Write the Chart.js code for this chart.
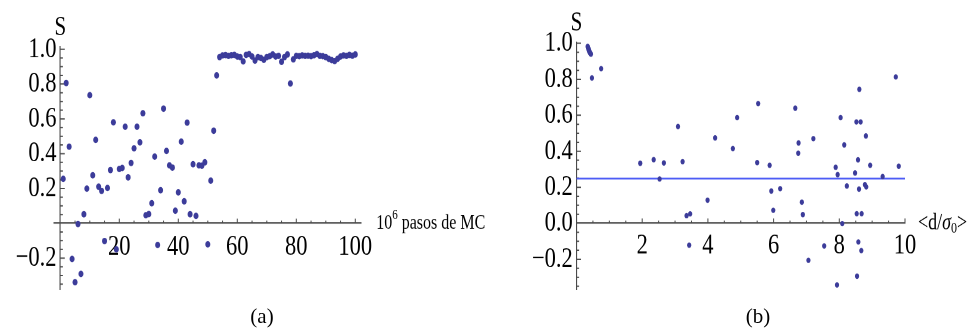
<!DOCTYPE html>
<html lang="es">
<head>
<meta charset="utf-8">
<script src="https://cdn.jsdelivr.net/npm/chart.js@4.4.1/dist/chart.umd.min.js"></script>
<style>
  html, body { margin: 0; padding: 0; background: #fff; }
  body { width: 974px; height: 334px; position: relative; overflow: hidden; }
  .panel { position: absolute; top: 0; height: 257px;
           transform: scaleY(1.2996); transform-origin: 0 0; }
  #panelA { left: 0; width: 500px; }
  #panelB { left: 487px; width: 487px; }
  .cap { position: absolute; top: 304px; width: 60px; text-align: center;
         font-family: 'Liberation Serif', serif; font-size: 21px; line-height: 24px; color: #000; }
</style>
</head>
<body>
<div class="panel" id="panelA"><canvas id="chartA" width="500" height="257"></canvas></div>
<div class="panel" id="panelB"><canvas id="chartB" width="487" height="257"></canvas></div>
<div class="cap" style="left:232px">(a)</div>
<div class="cap" style="left:728px">(b)</div>
<script>
// ---- (a) parámetro de orden S frente a pasos de Monte Carlo (x 10^6) ----
const pasosMC = [
  1, 2, 3, 4, 5, 6, 7, 8, 9, 10, 11, 12, 13, 14, 15, 16, 17, 18, 19, 20,
  21, 22, 23, 24, 25, 26, 27, 28, 29, 30, 31, 32, 33, 34, 35, 36, 37, 38, 39, 40,
  41, 42, 43, 44, 45, 46, 47, 48, 49, 50, 51, 52, 53, 54, 55, 56, 57, 58, 59, 60,
  61, 62, 63, 64, 65, 66, 67, 68, 69, 70, 71, 72, 73, 74, 75, 76, 77, 78, 79, 80,
  81, 82, 83, 84, 85, 86, 87, 88, 89, 90, 91, 92, 93, 94, 95, 96, 97, 98, 99, 100
];
const ordenS_A = [
  0.255, 0.806, 0.440, -0.205, -0.339, -0.004, -0.291, 0.052, 0.199, 0.736,
  0.276, 0.479, 0.210, 0.186, -0.102, 0.203, 0.306, 0.580, -0.150, 0.312,
  0.318, 0.555, 0.264, 0.347, 0.431, 0.555, 0.465, 0.632, 0.046, 0.053,
  0.115, 0.383, -0.125, 0.190, 0.659, 0.416, 0.333, 0.320, 0.072, 0.178,
  0.469, 0.126, 0.578, 0.052, 0.339, 0.042, 0.333, 0.331, 0.350, -0.121,
  0.245, 0.532, 0.850, 0.955, 0.965, 0.967, 0.962, 0.966, 0.968, 0.958,
  0.955, 0.930, 0.968, 0.972, 0.958, 0.935, 0.955, 0.950, 0.940, 0.955,
  0.960, 0.970, 0.958, 0.962, 0.928, 0.955, 0.970, 0.803, 0.942, 0.962,
  0.960, 0.965, 0.962, 0.963, 0.960, 0.966, 0.972, 0.962, 0.960, 0.955,
  0.945, 0.938, 0.932, 0.945, 0.958, 0.965, 0.962, 0.968, 0.963, 0.970
];
const ticksPasos = [20, 40, 60, 80, 100];
const ticksS_A = [-0.2, 0.2, 0.4, 0.6, 0.8, 1.0];

// ---- (b) S frente a la distancia media <d/sigma_0> ----
const distancia = [
  0.34, 0.345, 0.35, 0.355, 0.36, 0.36, 0.365, 0.37, 0.37, 0.375,
  0.38, 0.385, 0.39, 0.39, 0.40, 0.405, 0.41, 0.42, 0.43, 0.44,
  0.47, 0.75, 1.94, 2.35, 2.53, 2.66, 3.09, 3.23, 3.35, 3.46,
  3.43, 3.99, 4.22, 4.76, 4.89, 5.50, 5.53, 5.88, 5.93, 5.99,
  6.20, 6.66, 6.76, 6.75, 6.86, 6.89, 7.06, 7.21, 7.54, 7.89,
  7.93, 7.95, 8.04, 8.09, 8.15, 8.23, 8.48, 8.52, 8.53, 8.54,
  8.57, 8.58, 8.60, 8.61, 8.65, 8.67, 8.68, 8.78, 8.81, 8.82,
  8.94, 9.32, 9.72, 9.81
];
const ordenS_B = [
  0.982, 0.980, 0.977, 0.975, 0.972, 0.969, 0.970, 0.966, 0.963, 0.965,
  0.960, 0.958, 0.956, 0.953, 0.951, 0.950, 0.947, 0.945, 0.942, 0.940,
  0.807, 0.859, 0.333, 0.353, 0.246, 0.335, 0.537, 0.342, 0.042, 0.052,
  -0.122, 0.128, 0.474, 0.415, 0.587, 0.337, 0.665, 0.322, 0.179, 0.072,
  0.192, 0.639, 0.446, 0.389, 0.117, 0.048, -0.206, 0.470, -0.126, 0.311,
  -0.343, 0.270, 0.587, -0.002, 0.435, 0.207, 0.279, 0.563, 0.053, -0.294,
  0.352, -0.104, 0.190, 0.744, 0.563, -0.152, 0.053, 0.214, 0.485, 0.202,
  0.322, 0.259, 0.813, 0.317
];
const ticksDist = [2, 4, 6, 8, 10];
const ticksS_B = [-0.2, 0.0, 0.2, 0.4, 0.6, 0.8, 1.0];
const sMedio = 0.248;

const FUENTE = "'Liberation Serif', 'Times New Roman', serif";
const COLOR_EJE = '#4a4a4a';
const COLOR_PUNTO = '#3c3c9a';
const TAM_MARCAS = 22.5;

// rótulo decimal con signo menos tipográfico; el espacio final separa el texto del eje
function etiquetaDecimal(v) {
  const t = Math.abs(v).toFixed(1);
  return (v < -1e-9 ? '\u2212' + t : t) + '\u2006';
}

// Ejes que se cruzan en el origen: marcas hacia dentro (mayores y menores) y rótulos de eje
const ejesCruzados = {
  id: 'ejesCruzados',
  beforeDatasetsDraw(chart, args, o) {
    const ctx = chart.ctx, xs = chart.scales.x, ys = chart.scales.y;
    const px0 = xs.getPixelForValue(0), py0 = ys.getPixelForValue(0);
    const mayY = ys.ticks.map(t => t.value), mayX = xs.ticks.map(t => t.value);
    ctx.save();
    ctx.strokeStyle = COLOR_EJE;
    ctx.lineWidth = 1;
    ctx.beginPath();
    for (let k = Math.ceil(ys.min / o.menorY - 1e-9); k * o.menorY <= ys.max + 1e-9; k++) {
      const v = k * o.menorY;
      if (Math.abs(v) < 1e-9) continue;
      const mayor = mayY.some(m => Math.abs(m - v) < 1e-6);
      const py = ys.getPixelForValue(v);
      ctx.moveTo(px0, py);
      ctx.lineTo(px0 + (mayor ? o.largoMayor : o.largoMenor), py);
    }
    for (let k = Math.ceil(xs.min / o.menorX - 1e-9); k * o.menorX <= xs.max + 1e-9; k++) {
      const v = k * o.menorX;
      if (Math.abs(v) < 1e-9) continue;
      const mayor = mayX.some(m => Math.abs(m - v) < 1e-6);
      const px = xs.getPixelForValue(v);
      ctx.moveTo(px, py0);
      ctx.lineTo(px, py0 - (mayor ? o.largoMayor * 0.8 : o.largoMenor * 0.8));
    }
    ctx.stroke();
    ctx.restore();
  },
  afterDraw(chart, args, o) {
    const ctx = chart.ctx, xs = chart.scales.x, ys = chart.scales.y;
    const px0 = xs.getPixelForValue(0), py0 = ys.getPixelForValue(0);
    ctx.save();
    ctx.fillStyle = '#000';
    ctx.textBaseline = 'middle';
    ctx.textAlign = 'center';
    ctx.font = `21px ${FUENTE}`;
    ctx.fillText('S', px0, ys.top - o.sepS);
    // rótulo del eje horizontal, con super/subíndices
    ctx.textAlign = 'left';
    let x = xs.right + o.sepX;
    for (const p of o.rotuloX) {
      ctx.font = `${p.italica ? 'italic ' : ''}${p.tam}px ${FUENTE}`;
      ctx.fillText(p.t, x, py0 + (p.dy || 0));
      x += ctx.measureText(p.t).width;
    }
    ctx.restore();
  }
};

function crearPanel(id, xs, ys, lim, ticksX, ticksY, extra) {
  const datasets = [{
    type: 'scatter',
    data: xs.map((x, i) => ({x, y: ys[i]})),
    backgroundColor: COLOR_PUNTO,
    borderWidth: 0,
    pointRadius: extra.radio,
    order: 0
  }];
  if (extra.linea !== undefined) {
    datasets.push({
      type: 'line',
      data: [{x: lim.xMin, y: extra.linea}, {x: lim.xMax, y: extra.linea}],
      borderColor: '#4d5cf5',
      borderWidth: 1.3,
      pointRadius: 0,
      order: 1
    });
  }
  return new Chart(document.getElementById(id), {
    type: 'scatter',
    data: {datasets},
    options: {
      responsive: false,
      animation: false,
      devicePixelRatio: 2,
      events: [],
      layout: {padding: extra.padding},
      plugins: {
        legend: {display: false},
        tooltip: {enabled: false},
        ejesCruzados: extra.ejes
      },
      scales: {
        x: {
          type: 'linear', min: lim.xMin, max: lim.xMax,
          position: {y: 0},
          afterBuildTicks: s => { s.ticks = ticksX.map(v => ({value: v})); },
          grid: {display: false, drawTicks: false},
          border: {display: true, color: COLOR_EJE, width: 1.1},
          ticks: {autoSkip: false, maxRotation: 0, padding: extra.padX, color: '#000',
                  font: {family: FUENTE, size: TAM_MARCAS}, callback: v => String(v)}
        },
        y: {
          type: 'linear', min: lim.yMin, max: lim.yMax,
          position: {x: 0},
          afterBuildTicks: s => { s.ticks = ticksY.map(v => ({value: v})); },
          grid: {display: false, drawTicks: false},
          border: {display: true, color: COLOR_EJE, width: 1.1},
          ticks: {autoSkip: false, padding: 6, color: '#000',
                  font: {family: FUENTE, size: TAM_MARCAS}, callback: v => etiquetaDecimal(v)}
        }
      }
    },
    plugins: [ejesCruzados]
  });
}

crearPanel('chartA', pasosMC, ordenS_A,
  {xMin: -2.1, xMax: 102, yMin: -0.378, yMax: 1.015},
  ticksPasos, ticksS_A,
  {
    radio: 2.5, padX: 5,
    padding: {left: 54.1, right: 138.8, top: 35.9, bottom: 34.6},
    ejes: {menorX: 5, menorY: 0.05, largoMayor: 4.5, largoMenor: 2.6, sepS: 14.5, sepX: 15,
           rotuloX: [{t: '10', tam: 16}, {t: '6', tam: 11, dy: -6}, {t: ' pasos de MC', tam: 16}]}
  });

crearPanel('chartB', distancia, ordenS_B,
  {xMin: 0, xMax: 10, yMin: -0.367, yMax: 1.005},
  ticksDist, ticksS_B,
  {
    radio: 2.1, padX: 4, linea: sMedio,
    padding: {left: 89.5, right: 69, top: 32.6, bottom: 34.4},
    ejes: {menorX: 0.5, menorY: 0.05, largoMayor: 4.5, largoMenor: 2.6, sepS: 14.5, sepX: 13,
           rotuloX: [{t: '<d/', tam: 18}, {t: '\u03C3', tam: 18, italica: true},
                     {t: '0', tam: 12, dy: 4}, {t: '>', tam: 18}]}
  });
</script>
</body>
</html>
